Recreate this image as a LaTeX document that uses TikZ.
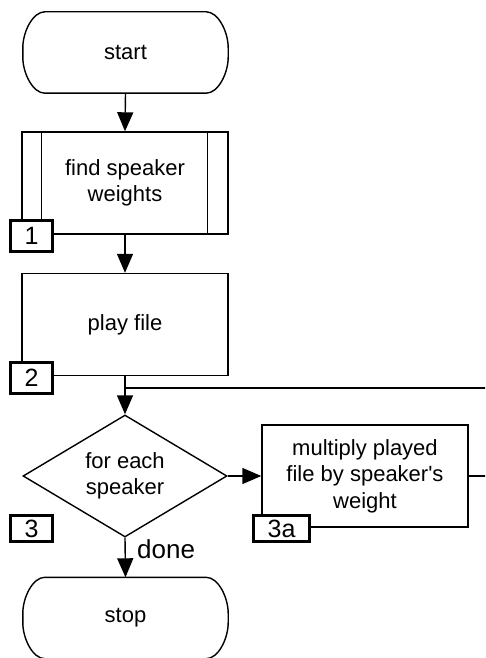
\documentclass[tikz,border=0pt]{standalone}
\usepackage{fontspec}
\setmainfont{Liberation Sans}
\usetikzlibrary{shapes.geometric,arrows.meta}
\tikzset{
  base/.style={draw, line width=1.4pt, inner sep=0pt, align=center,
    font=\fontsize{22}{26.5}\selectfont},
  terminal/.style={inner sep=0pt, align=center, font=\fontsize{22}{26.5}\selectfont,
    minimum width=205pt, minimum height=81pt},
  procbox/.style={base, rectangle, minimum width=206pt, minimum height=102pt},
  decision/.style={base, diamond, aspect=1.67, minimum width=204pt, minimum height=122pt},
  tag/.style={draw, line width=3pt, fill=white, inner sep=0pt,
    font=\fontsize{25}{25}\selectfont},
  flow/.style={line width=1.4pt, -{Triangle[length=19pt,width=16pt]}},
  plain/.style={line width=1.4pt}
}
\newcommand\termoutline[1]{%
  \draw[plain] ([xshift=22pt]#1.north west) -- ([xshift=-22pt]#1.north east)
    .. controls ([xshift=-10pt]#1.north east) and ([yshift=-20pt]#1.north east) .. ([yshift=-36pt]#1.north east)
    -- ([yshift=36pt]#1.south east)
    .. controls ([yshift=20pt]#1.south east) and ([xshift=-10pt]#1.south east) .. ([xshift=-22pt]#1.south east)
    -- ([xshift=22pt]#1.south west)
    .. controls ([xshift=10pt]#1.south west) and ([yshift=20pt]#1.south west) .. ([yshift=36pt]#1.south west)
    -- ([yshift=-36pt]#1.north west)
    .. controls ([yshift=-20pt]#1.north west) and ([xshift=10pt]#1.north west) .. cycle;}
\begin{document}
\begin{tikzpicture}[x=1pt,y=-1pt]
\clip (0,0) rectangle (485,658);
\node[terminal] (start) at (125.5,52.5) {start};
\termoutline{start}
\node[procbox] (find) at (125,183) {find speaker\\weights};
\draw[plain] ([xshift=20pt]find.north west) -- ([xshift=20pt]find.south west);
\draw[plain] ([xshift=-21pt]find.north east) -- ([xshift=-21pt]find.south east);
\node[procbox] (play) at (125,324.5) {play file};
\node[decision] (each) at (125,476) {for each\\speaker};
\node[procbox] (mult) at (365,476) {multiply played\\file by speaker\textquotesingle s\\weight};
\node[terminal] (stop) at (125.5,618) {stop};
\termoutline{stop}
\node[tag, minimum width=42pt, minimum height=31pt] (t1) at (31.5,236) {1};
\node[tag, minimum width=42pt, minimum height=31pt] (t2) at (31.5,378) {2};
\node[tag, minimum width=42pt, minimum height=26pt] (t3) at (31.5,528.5) {3};
\node[tag, minimum width=56pt, minimum height=26pt] (t3a) at (281.5,528.5) {3a};
\coordinate (merge) at (125,388);
\coordinate (loopR) at (505,476);
\draw[flow] (start.south) -- (find.north);
\draw[flow] (find.south) -- (play.north);
\draw[flow] (play.south) -- (each.north);
\draw[flow] (each.east) -- (mult.west);
\draw[plain] (mult.east) -- (loopR) |- (merge);
\draw[flow] (each.south) -- node[right=8pt, pos=0.3, font=\fontsize{26}{26}\selectfont] (done) {done} (stop.north);
\end{tikzpicture}
\end{document}
